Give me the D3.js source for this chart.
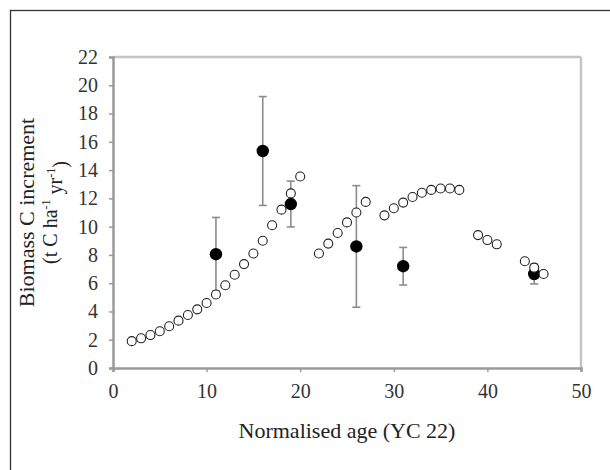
<!DOCTYPE html>
<html>
<head>
<meta charset="utf-8">
<script src="https://cdn.jsdelivr.net/npm/d3@7"></script>
<style>
  html, body { margin: 0; padding: 0; background: #ffffff; }
  svg { display: block; }
</style>
</head>
<body>
<svg id="chart" width="610" height="470"></svg>
<script>
// Modelled biomass C increment by normalised age (open circles), three growth segments
const modelAgeA = [2, 3, 4, 5, 6, 7, 8, 9, 10, 11, 12, 13, 14, 15, 16, 17, 18, 19, 20];
const modelIncA = [1.9, 2.1, 2.33, 2.6, 2.95, 3.35, 3.75, 4.15, 4.6, 5.2, 5.85, 6.6, 7.35, 8.1, 9.0, 10.1, 11.2, 12.35, 13.55];
const modelAgeB = [22, 23, 24, 25, 26, 27, 29, 30, 31, 32, 33, 34, 35, 36, 37];
const modelIncB = [8.1, 8.8, 9.55, 10.3, 11.0, 11.75, 10.8, 11.3, 11.7, 12.1, 12.4, 12.6, 12.7, 12.7, 12.6];
const modelAgeC = [39, 40, 41, 44, 45, 46];
const modelIncC = [9.4, 9.05, 8.75, 7.55, 7.1, 6.65];

// Measured increments (filled circles) with error bar half-widths
const obsAge = [11, 16, 19, 26, 31, 45];
const obsInc = [8.05, 15.35, 11.6, 8.6, 7.2, 6.65];
const obsErr = [2.6, 3.85, 1.62, 4.3, 1.33, 0.7];

// Axis ticks and titles
const xTicks = [0, 10, 20, 30, 40, 50];
const yTicks = [0, 2, 4, 6, 8, 10, 12, 14, 16, 18, 20, 22];
const xTitle = "Normalised age (YC 22)";
const yTitle1 = "Biomass C increment";

const FONT = "'Liberation Serif', 'DejaVu Serif', 'Times New Roman', Times, serif";

const svg = d3.select("#chart");

// outer frame (right and bottom edges fall outside the canvas)
svg.append("rect")
  .attr("x", 10.5).attr("y", 10.5)
  .attr("width", 640).attr("height", 500)
  .attr("fill", "#ffffff")
  .attr("stroke", "#333").attr("stroke-width", 1.3);

const x = d3.scaleLinear().domain([0, 50]).range([113, 581]);
const y = d3.scaleLinear().domain([0, 22]).range([368, 57]);

const axisColor = "#9a9a9a";

// plot box: top and right edges
svg.append("line")
  .attr("x1", x(0)).attr("x2", x(50)).attr("y1", y(22)).attr("y2", y(22))
  .attr("stroke", "#c4c4c4").attr("stroke-width", 2.5);
svg.append("line")
  .attr("x1", x(50)).attr("x2", x(50)).attr("y1", y(22)).attr("y2", y(0))
  .attr("stroke", "#c4c4c4").attr("stroke-width", 2.5);

const xAxis = svg.append("g")
  .attr("transform", `translate(0,${y(0)})`)
  .call(d3.axisBottom(x).tickValues(xTicks).tickSize(4).tickPadding(12).tickFormat(d3.format("d")));
const yAxis = svg.append("g")
  .attr("transform", `translate(${x(0)},0)`)
  .call(d3.axisLeft(y).tickValues(yTicks).tickSize(4).tickPadding(11).tickFormat(d3.format("d")));

[xAxis, yAxis].forEach(g => {
  g.attr("font-family", FONT).attr("font-size", 20);
  g.select(".domain").attr("stroke", axisColor).attr("stroke-width", 2.5);
  g.selectAll(".tick line").attr("stroke", axisColor).attr("stroke-width", 1.5);
  g.selectAll(".tick text").attr("fill", "#333");
});

// axis titles
svg.append("text")
  .attr("x", (x(0) + x(50)) / 2).attr("y", 438)
  .attr("text-anchor", "middle")
  .attr("font-family", FONT).attr("font-size", 22).attr("fill", "#222")
  .text(xTitle);

const yMid = (y(0) + y(22)) / 2;
svg.append("text")
  .attr("transform", `translate(34,${yMid}) rotate(-90)`)
  .attr("text-anchor", "middle")
  .attr("font-family", FONT).attr("font-size", 22).attr("fill", "#222")
  .text(yTitle1);

const yt2 = svg.append("text")
  .attr("transform", `translate(57,${yMid}) rotate(-90)`)
  .attr("text-anchor", "middle")
  .attr("font-family", FONT).attr("font-size", 20).attr("fill", "#222");
yt2.append("tspan").text("(t C ha");
yt2.append("tspan").attr("dy", "-0.6em").attr("font-size", 12).text("-1");
yt2.append("tspan").attr("dy", "0.6em").text(" yr");
yt2.append("tspan").attr("dy", "-0.6em").attr("font-size", 12).text("-1");
yt2.append("tspan").attr("dy", "0.6em").text(")");

// error bars for the measured points
const obs = obsAge.map((a, i) => ({ a, v: obsInc[i], e: obsErr[i] }));
const eb = svg.append("g").attr("stroke", "#8c8c8c").attr("stroke-width", 1.6);
eb.selectAll("line.stem").data(obs).join("line")
  .attr("class", "stem")
  .attr("x1", d => x(d.a)).attr("x2", d => x(d.a))
  .attr("y1", d => y(d.v + d.e)).attr("y2", d => y(d.v - d.e));
eb.selectAll("line.capT").data(obs).join("line")
  .attr("class", "capT")
  .attr("x1", d => x(d.a) - 4).attr("x2", d => x(d.a) + 4)
  .attr("y1", d => y(d.v + d.e)).attr("y2", d => y(d.v + d.e));
eb.selectAll("line.capB").data(obs).join("line")
  .attr("class", "capB")
  .attr("x1", d => x(d.a) - 4).attr("x2", d => x(d.a) + 4)
  .attr("y1", d => y(d.v - d.e)).attr("y2", d => y(d.v - d.e));

svg.append("g").selectAll("circle").data(obs).join("circle")
  .attr("cx", d => x(d.a)).attr("cy", d => y(d.v))
  .attr("r", 6.2).attr("fill", "#000");

// modelled series, open circles
const model = [
  ...modelAgeA.map((a, i) => ({ a, v: modelIncA[i] })),
  ...modelAgeB.map((a, i) => ({ a, v: modelIncB[i] })),
  ...modelAgeC.map((a, i) => ({ a, v: modelIncC[i] }))
];
svg.append("g").selectAll("circle").data(model).join("circle")
  .attr("cx", d => x(d.a)).attr("cy", d => y(d.v))
  .attr("r", 4.5).attr("fill", "#fff")
  .attr("stroke", "#222").attr("stroke-width", 1.1);
</script>
</body>
</html>
